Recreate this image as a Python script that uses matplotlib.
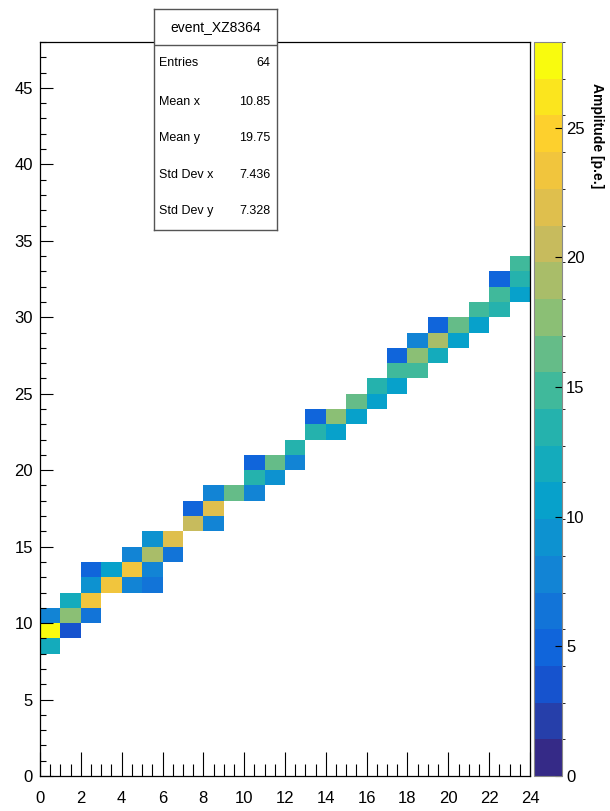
import numpy as np
import matplotlib
matplotlib.use('Agg')
import matplotlib.pyplot as plt
from matplotlib.colors import LinearSegmentedColormap, BoundaryNorm
from matplotlib.ticker import MultipleLocator

plt.rcParams['font.family'] = ['Liberation Sans', 'DejaVu Sans']

# hit cells (x bin, y bin) and amplitude in p.e.
xbin = [0, 0, 1, 0, 1, 2, 1, 2, 2, 3, 4, 5, 2, 3, 4, 5, 4, 5, 6, 5, 6,
        7, 8, 7, 8, 8, 9, 10, 10, 11, 10, 11, 12, 12, 13, 14, 13, 14, 15,
        15, 16, 16, 17, 17, 18, 17, 18, 19, 18, 19, 20, 19, 20, 21, 21, 22,
        22, 23, 22, 23, 23]
ybin = [8, 9, 9, 10, 10, 10, 11, 11, 12, 12, 12, 12, 13, 13, 13, 13, 14, 14, 14, 15, 15,
        16, 16, 17, 17, 18, 18, 18, 19, 19, 20, 20, 20, 21, 22, 22, 23, 23, 23,
        24, 24, 25, 25, 26, 26, 27, 27, 27, 28, 28, 28, 29, 29, 29, 30, 30,
        31, 31, 32, 32, 33]
amp = [12.0, 28.3, 4.0, 8.0, 18.0, 7.0, 12.5, 24.0, 8.5, 23.0, 7.5, 6.0, 5.0, 11.0, 23.5, 8.0, 8.0, 19.0, 7.0, 8.5, 21.5,
       21.0, 8.0, 5.0, 21.5, 8.0, 16.5, 7.5, 13.0, 9.0, 5.0, 16.5, 8.0, 13.5, 13.0, 11.0, 5.0, 17.0, 10.5,
       16.0, 10.5, 13.0, 11.0, 15.0, 15.5, 5.0, 17.0, 12.5, 7.5, 18.5, 11.0, 5.0, 16.5, 11.0, 15.5, 14.0,
       15.0, 11.0, 5.0, 14.0, 15.0]

stats_names = ['Entries', 'Mean x', 'Mean y', 'Std Dev x', 'Std Dev y']
stats_vals = ['64', '10.85', '19.75', '7.436', '7.328']

# ROOT kBird palette
stops = [0.0, 0.125, 0.25, 0.375, 0.5, 0.625, 0.75, 0.875, 1.0]
red = [0.2082, 0.0592, 0.0780, 0.0232, 0.1802, 0.5301, 0.8186, 0.9956, 0.9764]
green = [0.1664, 0.3599, 0.5041, 0.6419, 0.7178, 0.7492, 0.7328, 0.7862, 0.9832]
blue = [0.5293, 0.8684, 0.8385, 0.7914, 0.6425, 0.4662, 0.3499, 0.1968, 0.0539]
bird = LinearSegmentedColormap.from_list('bird', list(zip(stops, zip(red, green, blue))), N=256)

nx, ny = 24, 48
H = np.full((ny, nx), np.nan)
for i, j, a in zip(xbin, ybin, amp):
    H[j, i] = a

zmax = max(amp)
levels = np.linspace(0, zmax, 21)
norm = BoundaryNorm(levels, ncolors=256)

fig = plt.figure(figsize=(6.10, 8.11), dpi=100)
ax = fig.add_axes([40/610, 1-776/811, 490/610, 734/811])
mesh = ax.pcolormesh(np.arange(nx+1), np.arange(ny+1), np.ma.masked_invalid(H),
                     cmap=bird, norm=norm)
ax.set_xlim(0, nx)
ax.set_ylim(0, ny)
ax.xaxis.set_major_locator(MultipleLocator(2))
ax.xaxis.set_minor_locator(MultipleLocator(0.5))
ax.yaxis.set_major_locator(MultipleLocator(5))
ax.yaxis.set_minor_locator(MultipleLocator(1))
ax.tick_params(axis='x', which='major', direction='in', length=17, width=0.8, labelsize=12, pad=11)
ax.tick_params(axis='x', which='minor', direction='in', length=8.5, width=0.8)
ax.tick_params(axis='y', which='major', direction='in', length=9.5, width=0.8, labelsize=12, pad=5)
ax.tick_params(axis='y', which='minor', direction='in', length=4.5, width=0.8)
for s in ax.spines.values():
    s.set_linewidth(0.9)

# colour scale
cax = fig.add_axes([534/610, 1-776/811, 28/610, 734/811])
cb = fig.colorbar(mesh, cax=cax, ticks=[0, 5, 10, 15, 20, 25])
cb.ax.tick_params(direction='in', length=5, width=0.8, labelsize=12, pad=3)
cb.outline.set_linewidth(0.8)
cb.outline.set_edgecolor('#888888')
fig.text(0.979, 1-83/811, 'Amplitude [p.e.]', rotation=270, ha='center', va='top',
         fontsize=10, fontweight='bold')

# stats box
sax = fig.add_axes([154/610, 1-230/811, 123/610, 221/811])
sax.set_xticks([])
sax.set_yticks([])
sax.set_xlim(0, 1)
sax.set_ylim(0, 1)
for s in sax.spines.values():
    s.set_edgecolor('#555555')
    s.set_linewidth(1)
sax.axhline(0.837, color='#555555', lw=1)
sax.text(0.5, 0.919, 'event_XZ8364', ha='center', va='center', fontsize=10)
rows_y = [0.756, 0.579, 0.416, 0.249, 0.086]
for name, val, yy in zip(stats_names, stats_vals, rows_y):
    sax.text(0.04, yy, name, ha='left', va='center', fontsize=9)
    sax.text(0.945, yy, val, ha='right', va='center', fontsize=9)

fig.savefig('out.png', dpi=100)
